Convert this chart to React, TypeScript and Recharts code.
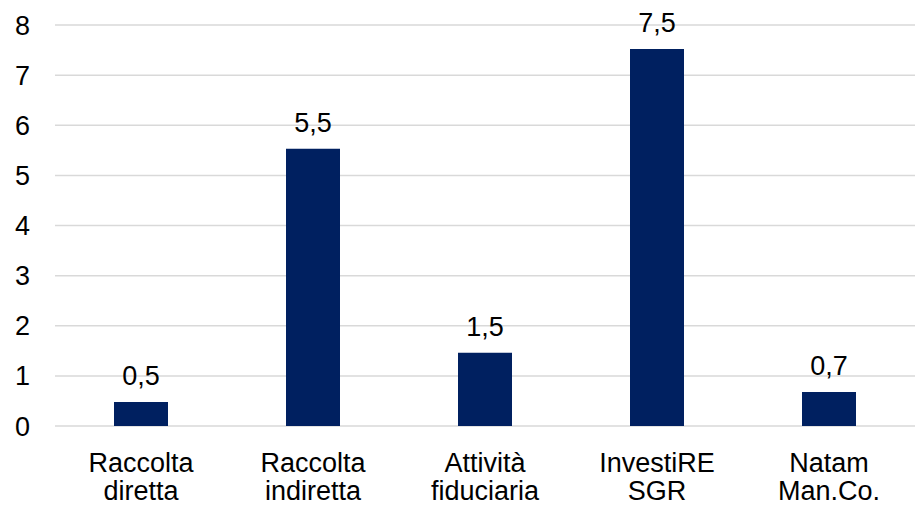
import React from 'react';
import { BarChart, Bar, XAxis, YAxis, CartesianGrid, LabelList } from 'recharts';

const categories: string[] = [
  'Raccolta\ndiretta',
  'Raccolta\nindiretta',
  'Attività\nfiduciaria',
  'InvestiRE\nSGR',
  'Natam\nMan.Co.',
];

const values: number[] = [0.48, 5.53, 1.46, 7.52, 0.68];

const yTicks: number[] = [0, 1, 2, 3, 4, 5, 6, 7, 8];

const chartData = categories.map((name, i) => ({ name, value: values[i] }));

const FONT = '"Liberation Sans", Arial, sans-serif';

const CategoryTick = (props: any) => {
  const { x, y, payload } = props;
  const lines: string[] = String(payload.value).split('\n');
  return (
    <text
      x={x}
      y={y}
      textAnchor='middle'
      fill='#000'
      fontSize={27}
      fontFamily={FONT}
    >
      {lines.map((line, i) => (
        <tspan key={i} x={x} dy={i === 0 ? 38 : 28}>
          {line}
        </tspan>
      ))}
    </text>
  );
};

const App: React.FC = () => {
  return (
    <div style={{ position: 'absolute', left: 0, top: 0, width: 915, height: 507, background: '#fff' }}>
      <BarChart
        width={915}
        height={507}
        data={chartData}
        margin={{ top: 25, right: 0, left: 0, bottom: 0 }}
      >
        <CartesianGrid vertical={false} stroke='#d9d9d9' strokeWidth={1.5} />
        <XAxis
          dataKey='name'
          axisLine={false}
          tickLine={false}
          height={81}
          tick={<CategoryTick />}
          interval={0}
        />
        <YAxis
          width={55}
          domain={[0, 8]}
          ticks={yTicks}
          axisLine={false}
          tickLine={false}
          tickSize={0}
          tickMargin={25}
          tick={{ fill: '#000', fontSize: 27, fontFamily: FONT }}
        />
        <Bar dataKey='value' fill='#002060' barSize={54} isAnimationActive={false}>
          <LabelList
            dataKey='value'
            position='top'
            offset={17}
            formatter={(v: any) => Number(v).toFixed(1).replace('.', ',')}
            style={{ fill: '#000', fontSize: 27, fontFamily: FONT }}
          />
        </Bar>
      </BarChart>
    </div>
  );
};

export default App;
